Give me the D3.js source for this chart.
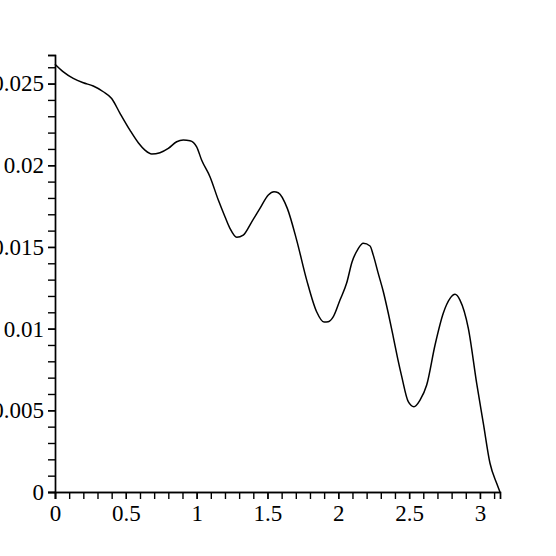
<!DOCTYPE html>
<html>
<head>
<meta charset="utf-8">
<script src="https://cdn.jsdelivr.net/npm/d3@7"></script>
<style>
  body { margin: 0; background: #ffffff; }
  .axis text { font-family: "Liberation Serif", "DejaVu Serif", serif; font-size: 23px; fill: #000; }
  .axis path, .axis line { stroke: #000; stroke-width: 1.4px; }
</style>
</head>
<body>
<script>
// curve samples
var xs = [0, 0.059, 0.129, 0.200, 0.270, 0.341, 0.400, 0.459, 0.529, 0.588,
          0.635, 0.683, 0.741, 0.800, 0.859, 0.906, 0.953, 1.000, 1.035, 1.094,
          1.153, 1.200, 1.235, 1.283, 1.329, 1.389, 1.447, 1.506, 1.546, 1.576,
          1.640, 1.706, 1.777, 1.847, 1.899, 1.929, 1.965, 2.012, 2.059, 2.097,
          2.139, 2.176, 2.224, 2.247, 2.282, 2.318, 2.353, 2.388, 2.419, 2.448,
          2.494, 2.534, 2.577, 2.624, 2.683, 2.741, 2.789, 2.824, 2.859, 2.918,
          2.977, 3.024, 3.071, 3.118, 3.1416];
var ys = [0.02619, 0.02572, 0.02532, 0.02505, 0.02485, 0.02450, 0.02409, 0.02318, 0.02215, 0.02138,
          0.02093, 0.02069, 0.02077, 0.02103, 0.02144, 0.02154, 0.02150, 0.02113, 0.02032, 0.01930,
          0.01787, 0.01685, 0.01614, 0.01559, 0.01573, 0.01654, 0.01736, 0.01818, 0.01838, 0.01832,
          0.01736, 0.01542, 0.01297, 0.01103, 0.01040, 0.01042, 0.01073, 0.01175, 0.01279, 0.01408,
          0.01487, 0.01522, 0.01506, 0.01450, 0.01338, 0.01226, 0.01094, 0.00950, 0.00818, 0.00706,
          0.00553, 0.00522, 0.00563, 0.00655, 0.00900, 0.01094, 0.01185, 0.01210, 0.01175, 0.01002,
          0.00665, 0.00420, 0.00176, 0.00053, 0];

var xTickValues = [0, 0.5, 1, 1.5, 2, 2.5, 3];
var xTickLabels = ["0", "0.5", "1", "1.5", "2", "2.5", "3"];
var yTickValues = [0, 0.005, 0.01, 0.015, 0.02, 0.025];
var yTickLabels = ["0", "0.005", "0.01", "0.015", "0.02", "0.025"];

var width = 556, height = 556;

var svg = d3.select("body").append("svg")
    .attr("width", width)
    .attr("height", height);

svg.append("rect")
    .attr("width", "100%")
    .attr("height", "100%")
    .attr("fill", "#ffffff");

var x = d3.scaleLinear().domain([0, Math.PI]).range([55, 500]);
var y = d3.scaleLinear().domain([0, 0.02675]).range([492, 55]);

var data = xs.map(function(d, i) { return {x: d, y: ys[i]}; });

// minor ticks (no labels)
var xMinor = d3.range(0, 3.15, 0.1);
var yMinor = d3.range(0, 0.0265, 0.001);

svg.append("g")
    .attr("class", "axis")
    .attr("transform", "translate(0,492)")
    .call(d3.axisBottom(x).tickValues(xMinor).tickFormat("").tickSize(7).tickSizeOuter(7));

svg.append("g")
    .attr("class", "axis")
    .attr("transform", "translate(0,492)")
    .call(d3.axisBottom(x).tickValues(xTickValues)
      .tickFormat(function(d, i) { return xTickLabels[i]; })
      .tickSize(7).tickSizeOuter(7).tickPadding(6));

svg.append("g")
    .attr("class", "axis")
    .attr("transform", "translate(55,0)")
    .call(d3.axisLeft(y).tickValues(yMinor).tickFormat("").tickSize(7).tickSizeOuter(7));

svg.append("g")
    .attr("class", "axis")
    .attr("transform", "translate(55,0)")
    .call(d3.axisLeft(y).tickValues(yTickValues)
      .tickFormat(function(d, i) { return yTickLabels[i]; })
      .tickSize(7).tickSizeOuter(7).tickPadding(4));

var line = d3.line()
    .x(function(d) { return x(d.x); })
    .y(function(d) { return y(d.y); })
    .curve(d3.curveMonotoneX);

svg.append("path")
    .datum(data)
    .attr("fill", "none")
    .attr("stroke", "#000")
    .attr("stroke-width", 1.5)
    .attr("d", line);
</script>
</body>
</html>
